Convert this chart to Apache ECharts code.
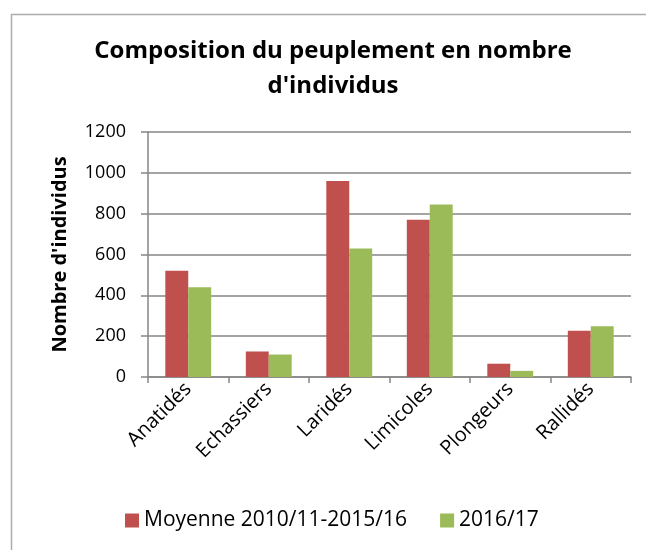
<!DOCTYPE html>
<html>
<head>
<meta charset="utf-8">
<script src="https://cdn.jsdelivr.net/npm/echarts@6/dist/echarts.min.js"></script>
<style>
  html, body { margin: 0; padding: 0; background: #fff; }
  #main { width: 646px; height: 550px; }
</style>
</head>
<body>
<div id="main"></div>
<script>
// données
const categories = ['Anatidés', 'Echassiers', 'Laridés', 'Limicoles', 'Plongeurs', 'Rallidés'];
const moyenne = [520, 125, 960, 770, 65, 227];
const saison2016 = [440, 110, 630, 845, 30, 248];
const seriesNames = ['Moyenne 2010/11-2015/16', '2016/17'];

const font = '"Open Sans", "Noto Sans", sans-serif';
const chart = echarts.init(document.getElementById('main'), null, { renderer: 'canvas' });

const option = {
  backgroundColor: '#ffffff',
  animation: false,
  color: ['#C0504D', '#9BBB59'],
  title: {
    text: 'Composition du peuplement en nombre\nd\'individus',
    left: 328,
    textAlign: 'center',
    top: 29,
    textStyle: {
      fontFamily: font,
      fontSize: 24,
      fontWeight: 'bold',
      color: '#000',
      lineHeight: 35
    }
  },
  graphic: [{
    type: 'rect',
    shape: { x: 11.5, y: 14.5, width: 700, height: 600 },
    style: { fill: 'none', stroke: '#ADADAD', lineWidth: 1.5 },
    silent: true
  }],
  legend: {
    bottom: 14,
    left: 120,
    itemWidth: 14,
    itemHeight: 14,
    itemGap: 33,
    icon: 'rect',
    textStyle: { fontFamily: font, fontSize: 21, color: '#000' },
    data: seriesNames
  },
  grid: {
    left: 148,
    right: 15,
    top: 132,
    bottom: 173
  },
  xAxis: {
    type: 'category',
    data: categories,
    axisLine: { lineStyle: { color: '#868686', width: 1.5 } },
    axisTick: { show: true, length: 6, alignWithLabel: false, lineStyle: { color: '#868686', width: 1.5 } },
    axisLabel: {
      rotate: 45,
      margin: 9,
      fontFamily: font,
      fontSize: 20,
      color: '#000'
    }
  },
  yAxis: {
    type: 'value',
    min: 0,
    max: 1200,
    interval: 200,
    name: 'Nombre d\'individus',
    nameLocation: 'middle',
    nameGap: 78,
    nameTextStyle: { fontFamily: font, fontSize: 20, fontWeight: 'bold', color: '#000' },
    axisLine: { show: true, lineStyle: { color: '#868686', width: 1.5 } },
    axisTick: { show: true, length: 7, lineStyle: { color: '#868686', width: 1.5 } },
    axisLabel: {
      margin: 22,
      fontFamily: font,
      fontSize: 18,
      color: '#000',
      formatter: v => String(v)
    },
    splitLine: { lineStyle: { color: '#868686', width: 1.5 } }
  },
  series: [{
    name: seriesNames[0],
    type: 'bar',
    data: moyenne,
    barGap: '0%',
    barCategoryGap: '43%'
  }, {
    name: seriesNames[1],
    type: 'bar',
    data: saison2016
  }]
};

chart.setOption(option);
</script>
</body>
</html>
